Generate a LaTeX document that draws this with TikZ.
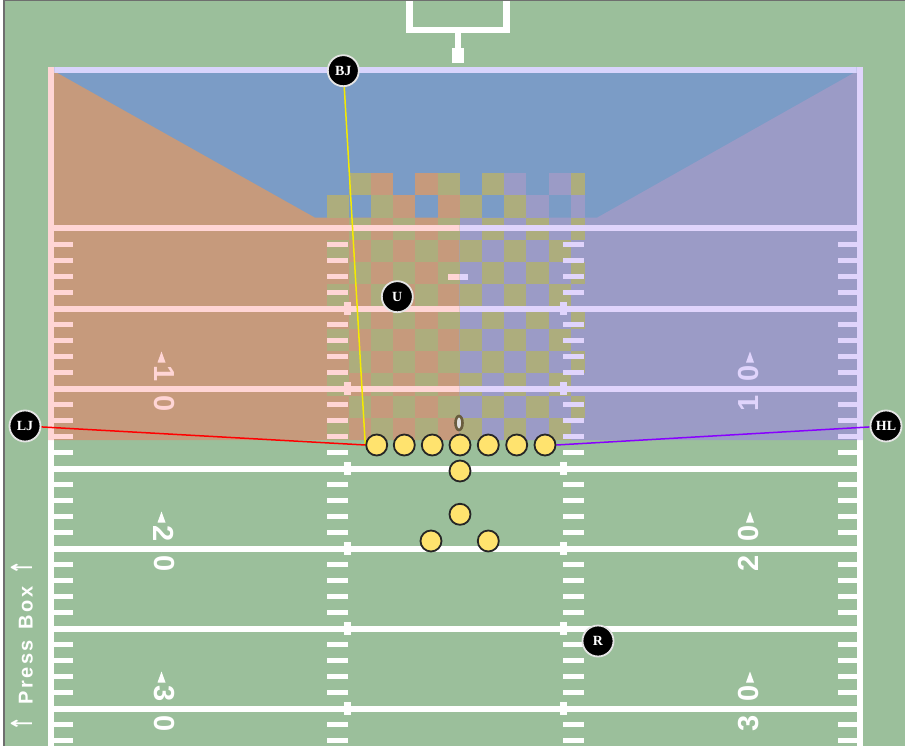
\documentclass[tikz,border=0pt]{standalone}
\usepackage{fontspec}
\setmainfont{Liberation Serif}
\newfontfamily\numfont{Liberation Sans}
\newfontfamily\arrowfont{DejaVu Sans}
\usetikzlibrary{shapes.geometric}
\definecolor{fieldgreen}{RGB}{155,191,155}
\definecolor{ezblue}{RGB}{123,156,198}
\definecolor{lbrown}{RGB}{198,154,124}
\definecolor{rpurple}{RGB}{155,155,198}
\definecolor{olivec}{RGB}{173,173,125}
\definecolor{lpink}{RGB}{255,213,213}
\definecolor{rlav}{RGB}{224,212,252}
\definecolor{toplav}{RGB}{216,212,252}
\definecolor{dotyellow}{RGB}{255,227,110}
\definecolor{ballbrown}{RGB}{105,92,62}
\definecolor{purpleline}{RGB}{136,0,255}
\definecolor{yline}{RGB}{245,235,0}
\definecolor{framegray}{RGB}{110,110,110}
\colorlet{mk}{white}
\pgfdeclarelayer{bg}
\pgfdeclarelayer{mid}
\pgfsetlayers{bg,mid,main}
\tikzset{
  num/.style={text=mk, inner sep=0pt, font=\numfont\bfseries\fontsize{29}{29}\selectfont},
  official/.style={circle, fill=black, draw=white!90!black, line width=1.8pt,
    minimum size=31pt, inner sep=0pt, text=white, font=\bfseries\fontsize{14}{14}\selectfont},
  player/.style={circle, fill=dotyellow, draw=black!85, line width=1.8pt,
    minimum size=21pt, inner sep=0pt},
  ballstyle/.style={ellipse, fill=gray!25, draw=ballbrown, line width=2.6pt,
    minimum width=7pt, minimum height=14pt, inner sep=0pt},
  conn/.style={line width=1.5pt},
  presstext/.style={text=white, inner sep=0pt, font=\numfont\bfseries\fontsize{20}{20}\selectfont}
}
\newcommand\fieldmarks{%
  \fill[mk] (48,67) rectangle (863,73.3);
  \fill[mk] (48,67) rectangle (54.3,746);
  \fill[mk] (856.7,67) rectangle (863,746);
  \foreach \k in {0,...,6}{
    \pgfmathsetmacro\yy{228.5+80*\k}
    \fill[mk] (54.3,\yy-3) rectangle (856.7,\yy+3);
  }
  \foreach \k in {1,...,6}{
    \pgfmathsetmacro\yy{228.5+80*\k}
    \fill[mk] (344.2,\yy-6.5) rectangle (350.6,\yy+6.5);
    \fill[mk] (560.2,\yy-6.5) rectangle (566.6,\yy+6.5);
  }
  \foreach \n in {1,...,32}{
    \pgfmathtruncatemacro\rr{mod(\n,5)}
    \ifnum\rr>0
      \pgfmathsetmacro\yy{228.5+16*\n}
      \fill[mk] (54.3,\yy-2.5) rectangle (73,\yy+2.5);
      \fill[mk] (838,\yy-2.5) rectangle (856.7,\yy+2.5);
      \fill[mk] (327.3,\yy-2.5) rectangle (347.5,\yy+2.5);
      \fill[mk] (563.3,\yy-2.5) rectangle (583.5,\yy+2.5);
    \fi
  }
  \fill[mk] (448.3,273.5) rectangle (468.3,279.8);
  \foreach \d/\yy in {1/388.5,2/548.5,3/708.5}{
    \node[num,rotate=-90] (nl\d a) at (164,\yy-15) {\d};
    \node[num,rotate=-90] (nl\d b) at (164,\yy+15) {0};
    \fill[mk] (161.5,\yy-37) -- (157.5,\yy-26) -- (165.5,\yy-26) -- cycle;
    \node[num,rotate=90] (nr\d a) at (748.5,\yy-15) {0};
    \node[num,rotate=90] (nr\d b) at (748.5,\yy+15) {\d};
    \fill[mk] (750,\yy-37) -- (746,\yy-26) -- (754,\yy-26) -- cycle;
  }
}
\begin{document}
\begin{tikzpicture}[x=1pt,y=-1pt]
\useasboundingbox (0,0) rectangle (905,746);
\begin{pgfonlayer}{bg}
  \fill[white] (0,0) rectangle (905,746);
  \fill[fieldgreen] (4.5,1.2) rectangle (905,746);
  \draw[framegray, line width=1.4pt] (3.8,0) -- (3.8,746);
  \draw[framegray, line width=1.2pt] (3.8,0.6) -- (905,0.6);
  % goal post
  \fill[white] (406,1.2) rectangle (412.7,33.3);
  \fill[white] (503.3,1.2) rectangle (510,33.3);
  \fill[white] (406,26.7) rectangle (510,33.3);
  \fill[white] (454.5,33.3) rectangle (461,48);
  \fill[white] (451.7,47.7) rectangle (464.3,63.3);
  % shaded zones
  \fill[ezblue] (48,67) rectangle (863,217.7);
  \fill[lbrown] (48,70) -- (52,70) -- (315,217.7) -- (459.6,217.7) -- (459.6,440) -- (48,440) -- cycle;
  \fill[rpurple] (863,70) -- (859,70) -- (597,217.7) -- (459.6,217.7) -- (459.6,440) -- (863,440) -- cycle;
  % checker, lower rows
  \foreach \k in {0,...,9}{
    \foreach \j in {0,...,11}{
      \pgfmathtruncatemacro\pp{mod(\j+\k,2)}
      \ifnum\pp=1
        \pgfmathsetmacro\xa{326.7+22.18*\j}
        \pgfmathsetmacro\xb{min(326.7+22.18*(\j+1),585)}
        \pgfmathsetmacro\ya{217.7+22.23*\k}
        \fill[olivec] (\xa,\ya) rectangle (\xb,\ya+22.23);
      \fi
    }
  }
  % checker, top rows
  \foreach \j/\cc in {1/olivec,2/lbrown,4/lbrown,5/olivec,7/olivec,8/rpurple,10/rpurple,11/olivec}{
    \pgfmathsetmacro\xa{326.7+22.18*\j}
    \pgfmathsetmacro\xb{min(326.7+22.18*(\j+1),585)}
    \fill[\cc] (\xa,173.3) rectangle (\xb,195.5);
  }
  \foreach \j/\cc in {0/olivec,2/olivec,3/lbrown,5/lbrown,6/olivec,8/olivec,9/rpurple,11/rpurple}{
    \pgfmathsetmacro\xa{326.7+22.18*\j}
    \pgfmathsetmacro\xb{min(326.7+22.18*(\j+1),585)}
    \fill[\cc] (\xa,195.5) rectangle (\xb,217.7);
  }
  % field markings
  \begin{scope}
    \clip (0,440) rectangle (905,746);
    \colorlet{mk}{white}\fieldmarks
  \end{scope}
  \begin{scope}
    \clip (40,60) -- (54.3,60) -- (54.3,73.3) -- (459.6,73.3) -- (459.6,440) -- (40,440) -- cycle;
    \colorlet{mk}{lpink}\fieldmarks
  \end{scope}
  \begin{scope}
    \clip (54.3,60) rectangle (856.7,73.3);
    \colorlet{mk}{toplav}\fieldmarks
  \end{scope}
  \begin{scope}
    \clip (856.7,60) -- (870,60) -- (870,440) -- (459.6,440) -- (459.6,73.3) -- (856.7,73.3) -- cycle;
    \colorlet{mk}{rlav}\fieldmarks
  \end{scope}
\end{pgfonlayer}
% press box label
\node[presstext, rotate=90, anchor=base] (press) at (32.5,645.5)
  {{\arrowfont\bfseries\scalebox{0.8}[1.45]{↑}}\hspace{12pt}P\kern2.6pt r\kern2.6pt e\kern2.6pt s\kern2.6pt s\kern2.6pt\ \kern2.6pt B\kern2.6pt o\kern2.6pt x\hspace{12pt}{\arrowfont\bfseries\scalebox{0.8}[1.45]{↑}}};
% players
\node[player] (d1) at (376.7,445) {};
\node[player] (d2) at (404.3,445) {};
\node[player] (d3) at (432.3,445) {};
\node[player] (d4) at (460,445) {};
\node[player] (d5) at (488.3,445) {};
\node[player] (d6) at (516.7,445) {};
\node[player] (d7) at (545,445) {};
\node[player] (q1) at (460,471) {};
\node[player] (q2) at (460,514.3) {};
\node[player] (q3) at (431,541) {};
\node[player] (q4) at (488.3,541) {};
\node[ballstyle] (ball) at (459,423) {};
% officials
\node[official] (BJ) at (343.3,70.7) {BJ};
\node[official] (U) at (397.3,296.7) {U};
\node[official] (LJ) at (25,426) {LJ};
\node[official] (HL) at (886,426) {HL};
\node[official] (R) at (598,641) {R};
\begin{pgfonlayer}{mid}
  \draw[conn, yline] (BJ) -- (d1.west);
  \draw[conn, red] (LJ) -- (d1.west);
  \draw[conn, purpleline] (HL) -- (d7.east);
\end{pgfonlayer}
\end{tikzpicture}
\end{document}
